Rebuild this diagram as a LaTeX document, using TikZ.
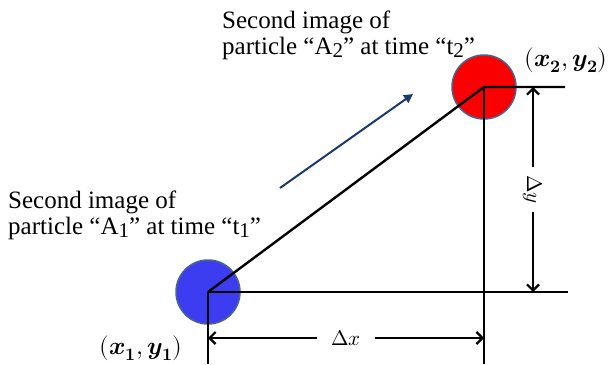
\documentclass[tikz,border=0pt]{standalone}
\usepackage{fontspec}
\usepackage{unicode-math}
\setmainfont{Liberation Serif}
\setmathfont{Latin Modern Math}
\usetikzlibrary{arrows.meta}
\definecolor{dotblue}{RGB}{60,60,240}
\definecolor{dotred}{RGB}{250,0,0}
\definecolor{dotrim}{RGB}{70,100,140}
\definecolor{navyarrow}{RGB}{30,55,110}
\newcommand{\lowsub}[1]{\raisebox{-3pt}{\fontsize{21}{21}\selectfont #1}}
\tikzset{
  leg/.style={line width=2.4pt},
  dimline/.style={line width=2.2pt,
    {Straight Barb[length=6pt,width=12pt]}-{Straight Barb[length=6pt,width=12pt]}},
  caption/.style={font=\fontsize{25}{26}\selectfont, align=left, inner sep=0pt, anchor=north west},
  poslabel/.style={font=\fontsize{25}{28}\selectfont, inner sep=0pt},
  dimlabel/.style={font=\fontsize{21}{25}\selectfont, fill=white, inner sep=8pt},
  particle/.style={circle, draw=dotrim, line width=1.5pt, minimum size=64pt, inner sep=0pt},
}
\begin{document}
\begin{tikzpicture}[x=1pt,y=-1pt]
                \useasboundingbox (0,0) rectangle (610,364);
                % particle positions
                \coordinate (A1) at (208,292);
                \coordinate (A2) at (484,87);
                \node[particle, fill=dotblue] (p1) at (A1) {};
                \node[particle, fill=dotred] (p2) at (A2) {};
                % legs of the triangle
                \coordinate (e1) at (568,292);
                \coordinate (e2) at (565,87);
                \coordinate (b1) at (208,364);
                \coordinate (b2) at (484,364);
                \draw[leg] (A1) -- (A2) -- (e2);
                \draw[leg] (A1) -- (e1);
                \draw[leg] (A1) -- (b1);
                \draw[leg] (A2) -- (b2);
                % dimensions
                \coordinate (dy1) at (533,87);
                \coordinate (dy2) at (533,292);
                \coordinate (dx1) at (208,338);
                \coordinate (dx2) at (484,338);
                \draw[dimline] (dy1) -- node[dimlabel, rotate=-90] {$\Delta y$} (dy2);
                \draw[dimline] (dx1) -- node[dimlabel, inner xsep=14pt] {$\Delta x$} (dx2);
                % direction of motion
                \coordinate (m1) at (280,188);
                \coordinate (m2) at (413,94);
                \draw[navyarrow, line width=2pt, -{Triangle[length=9pt,width=9pt]}] (m1) -- (m2);
                % texts
                \node[poslabel] (l1) at (141,348) {$(\symbfit{x}_{\symbf{1}},\symbfit{y}_{\symbf{1}})$};
                \node[poslabel] (l2) at (566,60) {$(\symbfit{x}_{\symbf{2}},\symbfit{y}_{\symbf{2}})$};
                \node[caption] (c1) at (8,191) {Second image of\\particle “A\lowsub{1}” at time “t\lowsub{1}”};
                \node[caption] (c2) at (222,11) {Second image of\\particle “A\lowsub{2}” at time “t\lowsub{2}”};
\end{tikzpicture}
\end{document}
